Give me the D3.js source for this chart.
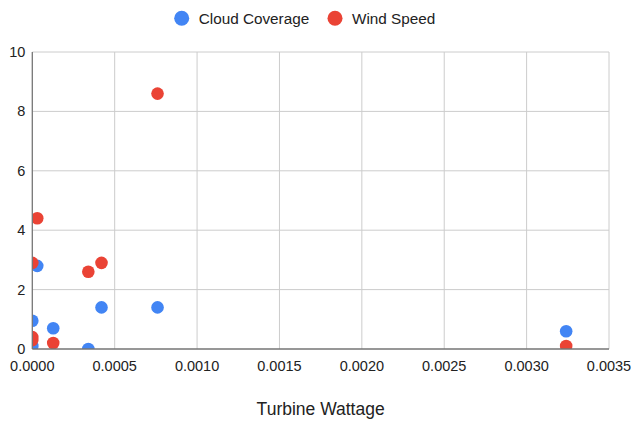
<!DOCTYPE html>
<html><head><meta charset="utf-8">
<script src="https://cdn.jsdelivr.net/npm/d3@7"></script>
<style>body{margin:0;background:#fff;font-family:"Liberation Sans",Arial,sans-serif}</style>
</head><body><svg id="c" width="633" height="423" font-family="Liberation Sans, Arial, sans-serif"></svg>
<script>
const seriesNames = ["Cloud Coverage", "Wind Speed"];
const colors = ["#4285F4", "#EA4335"];
const cloudX = [0, 0, 0.00003, 0.000127, 0.00034, 0.00042, 0.00076, 0.00324];
const cloudY = [0.95, 0.1, 2.8, 0.7, 0.0, 1.4, 1.4, 0.6];
const windX = [0, 0, 0, 0.00003, 0.000127, 0.00034, 0.00042, 0.00076, 0.00324];
const windY = [2.9, 0.4, 0.3, 4.4, 0.2, 2.6, 2.9, 8.6, 0.1];
const xTicks = [0, 0.0005, 0.001, 0.0015, 0.002, 0.0025, 0.003, 0.0035];
const yTicks = [0, 2, 4, 6, 8, 10];
const xTitle = "Turbine Wattage";

const svg = d3.select("#c");
const L = 32.3, R = 609, T = 52, B = 349;
const x = d3.scaleLinear().domain([0, 0.0035]).range([L, R]);
const y = d3.scaleLinear().domain([0, 10]).range([B, T]);

svg.append("defs").append("clipPath").attr("id","clip")
  .append("rect").attr("x", L).attr("y", T - 10).attr("width", R - L + 10).attr("height", B - T + 10);

// grid
svg.append("g").selectAll("line").data(yTicks.slice(1)).join("line")
  .attr("x1", L).attr("x2", R).attr("y1", d => y(d)).attr("y2", d => y(d))
  .attr("stroke", "#cccccc").attr("stroke-width", 1);
svg.append("g").selectAll("line").data(xTicks.slice(1)).join("line")
  .attr("x1", d => x(d)).attr("x2", d => x(d)).attr("y1", T).attr("y2", B)
  .attr("stroke", "#cccccc").attr("stroke-width", 1);

// points
const series = [cloudX.map((v,i)=>({x:v,y:cloudY[i]})), windX.map((v,i)=>({x:v,y:windY[i]}))];
const pg = svg.append("g").attr("clip-path","url(#clip)");
series.forEach((s, k) => {
  pg.append("g").selectAll("circle").data(s).join("circle")
    .attr("cx", d => x(d.x)).attr("cy", d => y(d.y)).attr("r", 6.3)
    .attr("fill", colors[k]);
});

// axes lines
svg.append("line").attr("x1", L).attr("x2", L).attr("y1", T).attr("y2", B)
  .attr("stroke", "#757575").attr("stroke-width", 1.3);
svg.append("line").attr("x1", L).attr("x2", R).attr("y1", B).attr("y2", B)
  .attr("stroke", "#757575").attr("stroke-width", 1.3);

// tick labels
svg.append("g").selectAll("text").data(yTicks).join("text")
  .attr("x", L - 7).attr("y", d => y(d)).attr("dy", "0.35em")
  .attr("text-anchor", "end").attr("font-size", 14.5).attr("fill", "#222")
  .text(d => d);
svg.append("g").selectAll("text").data(xTicks).join("text")
  .attr("x", d => x(d)).attr("y", B + 22)
  .attr("text-anchor", "middle").attr("font-size", 14.5).attr("fill", "#222")
  .text(d => d3.format(".4f")(d));

svg.append("text").attr("x", (L + R) / 2).attr("y", 415)
  .attr("text-anchor", "middle").attr("font-size", 17.5).attr("fill", "#222").text(xTitle);

// legend
const lg = svg.append("g");
const legX = [181.7, 335];
seriesNames.forEach((n, i) => {
  lg.append("circle").attr("cx", legX[i]).attr("cy", 18.3).attr("r", 7.5).attr("fill", colors[i]);
  lg.append("text").attr("x", legX[i] + 17).attr("y", 18.3).attr("dy", "0.35em")
    .attr("font-size", 15.3).attr("fill", "#222").text(n);
});
</script></body></html>
